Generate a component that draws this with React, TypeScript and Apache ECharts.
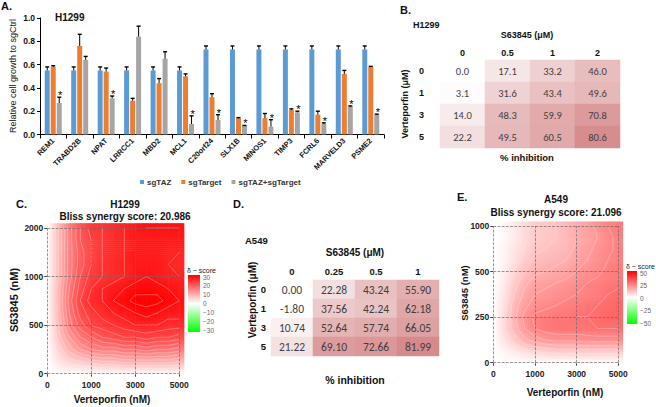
import React, { useEffect, useRef } from 'react';
import * as echarts from 'echarts';

// ---------- Panel A data ----------
const GENES = ['REM1', 'TRABD2B', 'NPAT', 'LRRCC1', 'MBD2', 'MCL1', 'C20orf24', 'SLX1B', 'MINOS1', 'TIMP3', 'FCRL6', 'MARVELD3', 'PSME2'];
const SG_TAZ = [0.55, 0.55, 0.55, 0.55, 0.55, 0.55, 0.73, 0.73, 0.73, 0.73, 0.73, 0.73, 0.73];
const SG_TAZ_ERR = [0.03, 0.03, 0.03, 0.03, 0.03, 0.03, 0.03, 0.03, 0.03, 0.03, 0.03, 0.03, 0.03];
const SG_TARGET = [0.58, 0.76, 0.54, 0.29, 0.44, 0.5, 0.32, 0.14, 0.14, 0.21, 0.17, 0.52, 0.58];
const SG_TARGET_ERR = [0.01, 0.1, 0.03, 0.02, 0.04, 0.02, 0.03, 0.005, 0.04, 0.01, 0.03, 0.03, 0.005];
const SG_COMBO = [0.27, 0.64, 0.31, 0.84, 0.65, 0.09, 0.125, 0.073, 0.067, 0.19, 0.09, 0.24, 0.17];
const SG_COMBO_ERR = [0.05, 0.03, 0.02, 0.09, 0.06, 0.07, 0.045, 0.005, 0.06, 0.01, 0.01, 0.005, 0.005];
const STARRED = [1, 0, 1, 0, 0, 1, 1, 1, 1, 1, 1, 1, 1];
const SERIES_NAMES = ['sgTAZ', 'sgTarget', 'sgTAZ+sgTarget'];
const SERIES_COLORS = ['#5B9BD5', '#ED7D31', '#A5A5A5'];

// ---------- Panel B data (H1299 % inhibition) ----------
const B_COLS = ['0', '0.5', '1', '2'];
const B_ROWS = ['0', '1', '3', '5'];
const B_VALUES = [
  [0.0, 17.1, 33.2, 46.0],
  [3.1, 31.6, 43.4, 49.6],
  [14.0, 48.3, 59.9, 70.8],
  [22.2, 49.5, 60.5, 80.6],
];

// ---------- Panel D data (A549 % inhibition) ----------
const D_COLS = ['0', '0.25', '0.5', '1'];
const D_ROWS = ['0', '1', '3', '5'];
const D_VALUES = [
  [0.0, 22.28, 43.24, 55.9],
  [-1.8, 37.56, 42.24, 62.18],
  [10.74, 52.64, 57.74, 66.05],
  [21.22, 69.1, 72.66, 81.99],
];

// ---------- Panels C / E: delta score surfaces (read at quarter-dose-step positions) ----------
const C_X_TICKS = ['0', '1000', '3000', '5000'];
const C_Y_TICKS = ['0', '500', '1000', '2000'];
const E_X_TICKS = ['0', '1000', '3000', '5000'];
const E_Y_TICKS = ['0', '250', '500', '1000'];
const STEP = 0.25;
// rows: bottom (S63845 = 0) to top; columns: Verteporfin 0 -> 5000
const C_DELTA = [
  [0, 0, 0, 0, 0, 0, 0, 0, 0, 0, 0, 0, 0],
  [0, 3, 5, 6, 7, 8, 8, 9, 9, 9, 9, 9, 8],
  [0, 5, 9, 12, 14, 15, 15, 16, 16, 17, 16, 16, 15],
  [0, 7, 12, 16, 18, 20, 21, 22, 22, 23, 22, 22, 21],
  [0, 8, 15, 19, 22, 23, 24, 25, 26, 26, 26, 25, 25],
  [0, 9, 16, 21, 23, 25, 26, 27, 28, 29, 28, 27, 27],
  [0, 9, 17, 22, 25, 26, 28, 29, 30, 30, 30, 29, 28],
  [0, 9, 16, 21, 24, 26, 27, 28, 29, 29, 29, 28, 27],
  [0, 8, 15, 20, 23, 24, 25, 26, 27, 28, 27, 26, 26],
  [0, 8, 15, 19, 22, 24, 25, 26, 27, 27, 27, 26, 25],
  [0, 8, 15, 19, 22, 24, 25, 26, 27, 27, 27, 26, 26],
  [0, 8, 15, 20, 22, 24, 25, 26, 27, 27, 27, 27, 27],
  [0, 8, 15, 20, 23, 24, 25, 26, 27, 28, 28, 28, 28],
];
const E_DELTA = [
  [0, 0, 0, 0, 0, 0, 0, 0, 0, 0, 0, 0, 0],
  [0, 2, 4, 6, 8, 9, 10, 10, 10, 10, 10, 10, 10],
  [0, 5, 10, 15, 18, 20, 21, 21, 21, 22, 22, 22, 22],
  [0, 7, 14, 20, 24, 26, 27, 27, 27, 27, 28, 28, 28],
  [0, 7, 15, 21, 25, 26, 27, 27, 28, 28, 29, 30, 30],
  [0, 6, 14, 19, 22, 23, 24, 25, 26, 27, 28, 29, 30],
  [0, 5, 12, 17, 20, 21, 22, 23, 24, 25, 26, 28, 29],
  [0, 4, 10, 15, 18, 19, 20, 21, 22, 24, 25, 26, 27],
  [0, 3, 8, 12, 15, 16, 17, 18, 20, 22, 23, 25, 26],
  [0, 2, 6, 10, 13, 14, 15, 16, 18, 20, 22, 24, 25],
  [0, 2, 5, 8, 11, 12, 13, 14, 17, 19, 21, 23, 25],
  [0, 1, 4, 7, 10, 11, 12, 14, 16, 18, 20, 23, 25],
  [0, 1, 4, 7, 10, 11, 12, 14, 16, 18, 21, 24, 26],
];
const C_LIMIT = 30;
const E_LIMIT = 50;
const C_CONTOURS = [2, 4, 6, 8, 10, 12, 14, 16, 18, 20, 22, 24, 26, 28, 29.5];
const E_CONTOURS = [4, 8, 12, 16, 20, 24, 28];
const C_LEGEND_TICKS = [30, 20, 10, 0, -10, -20, -30];
const E_LEGEND_TICKS = [50, 25, 0, -25, -50];

const FONT = "'Liberation Sans', Arial, sans-serif";
const TABLE_FONT = "Carlito, 'Noto Sans', sans-serif";
const EXT = 0.1; // surface drawn slightly past the last dose, as in the reference
const SLICES = 6;

function txt(x: number, y: number, text: string, size: number, opts: any = {}) {
  const align = opts.align || 'left';
  const va = opts.va || 'top';
  return {
    type: 'text',
    x,
    y,
    rotation: opts.rotation || 0,
    silent: true,
    style: {
      text,
      font: `${opts.weight || 'bold'} ${size}px ${opts.family || FONT}`,
      fill: opts.color || '#111',
      align,
      verticalAlign: va,
      textAlign: align,
      textVerticalAlign: va,
    },
  };
}

function colorBar(x: number, y: number, w: number, h: number, ticks: number[], labelX: number, firstY: number, lastY: number) {
  const els: any[] = [
    txt(x - 1, y - 5, 'δ − score', 7, { weight: 'normal', va: 'middle', color: '#222' }),
    {
      type: 'rect',
      silent: true,
      shape: { x, y, width: w, height: h },
      style: {
        fill: new echarts.graphic.LinearGradient(0, 0, 0, 1, [
          { offset: 0, color: '#ff0000' },
          { offset: 0.5, color: '#ffffff' },
          { offset: 1, color: '#00ff00' },
        ]),
      },
    },
  ];
  ticks.forEach((t, i) => {
    const ty = firstY + ((lastY - firstY) * i) / (ticks.length - 1);
    els.push(txt(labelX, ty, String(t).replace('-', '−'), 6.5, { weight: 'normal', va: 'middle', color: '#666' }));
  });
  return els;
}

// white -> red for positive, white -> green for negative (same ramp as the legend)
function deltaRGB(v: number, lim: number): number[] {
  const t = Math.max(-1, Math.min(1, v / lim));
  if (t >= 0) return [255, 255 * (1 - t), 255 * (1 - t)];
  return [255 * (1 + t), 255, 255 * (1 + t)];
}
function mixRGB(a: number[], b: number[], t: number): string {
  const c = a.map((av, i) => Math.round(av + (b[i] - av) * t));
  return `rgb(${c[0]},${c[1]},${c[2]})`;
}

function cellPixels(api: any, c: number, r: number, nCols: number, nRows: number) {
  const xL = api.coord([c * STEP, 0])[0];
  const xR = api.coord([(c + 1) * STEP, 0])[0];
  const xRe = c === nCols - 2 ? api.coord([(c + 1) * STEP + EXT, 0])[0] : xR;
  const yB = api.coord([0, r * STEP])[1];
  const yT = api.coord([0, (r + 1) * STEP])[1];
  const yTe = r === nRows - 2 ? api.coord([0, (r + 1) * STEP + EXT])[1] : yT;
  return { xL, xR, xRe, yB, yT, yTe };
}

function makeSurfaceItem(m: number[][], lim: number) {
  const nRows = m.length;
  const nCols = m[0].length;
  return (_params: any, api: any) => {
    const c = api.value(3);
    const r = api.value(4);
    if (c >= nCols - 1 || r >= nRows - 1) return null;
    const { xL, xR, xRe, yB, yT, yTe } = cellPixels(api, c, r, nCols, nRows);
    const children: any[] = [];
    for (let s = 0; s < SLICES; s++) {
      const t = (s + 0.5) / SLICES;
      const y0 = yB - ((yB - yT) * s) / SLICES;
      const y1 = s === SLICES - 1 ? yTe : yB - ((yB - yT) * (s + 1)) / SLICES;
      const cl = mixRGB(deltaRGB(m[r][c], lim), deltaRGB(m[r + 1][c], lim), t);
      const cr = mixRGB(deltaRGB(m[r][c + 1], lim), deltaRGB(m[r + 1][c + 1], lim), t);
      children.push({
        type: 'rect',
        shape: { x: xL, y: y1, width: xRe - xL + 0.6, height: y0 - y1 + 0.6 },
        style: {
          fill: new echarts.graphic.LinearGradient(xL, 0, xR, 0, [
            { offset: 0, color: cl },
            { offset: 1, color: cr },
          ], true),
        },
      });
    }
    return { type: 'group', children };
  };
}

// contour segments (marching squares) through each cell of the read grid
function makeContourItem(m: number[][], levels: number[]) {
  const nRows = m.length;
  const nCols = m[0].length;
  return (_params: any, api: any) => {
    const c = api.value(3);
    const r = api.value(4);
    if (c >= nCols - 1 || r >= nRows - 1) return null;
    const { xL, xR, yB, yT } = cellPixels(api, c, r, nCols, nRows);
    const bl = m[r][c];
    const br = m[r][c + 1];
    const tl = m[r + 1][c];
    const tr = m[r + 1][c + 1];
    const children: any[] = [];
    levels.forEach((L) => {
      const pts: number[][] = [];
      const cross = (a: number, b: number) => (a < L) !== (b < L);
      if (cross(bl, br)) { const f = (L - bl) / (br - bl); pts.push([xL + f * (xR - xL), yB]); }
      if (cross(br, tr)) { const f = (L - br) / (tr - br); pts.push([xR, yB + f * (yT - yB)]); }
      if (cross(tl, tr)) { const f = (L - tl) / (tr - tl); pts.push([xL + f * (xR - xL), yT]); }
      if (cross(bl, tl)) { const f = (L - bl) / (tl - bl); pts.push([xL, yB + f * (yT - yB)]); }
      for (let i = 0; i + 1 < pts.length; i += 2) {
        children.push({
          type: 'line',
          shape: { x1: pts[i][0], y1: pts[i][1], x2: pts[i + 1][0], y2: pts[i + 1][1] },
          style: { stroke: 'rgba(255,235,235,0.55)', lineWidth: 0.6 },
        });
      }
    });
    return { type: 'group', children };
  };
}

function errItem(_params: any, api: any) {
  const cat = api.value(0);
  const v = api.value(1);
  const e = api.value(2);
  const s = api.value(3);
  const star = api.value(4);
  const b = api.coord([cat, v]);
  const t = api.coord([cat, v + e]);
  const x = b[0] + (s - 1) * 6;
  const children: any[] = [
    { type: 'line', shape: { x1: x, y1: b[1], x2: x, y2: t[1] }, style: { stroke: '#000', lineWidth: 1 } },
    { type: 'line', shape: { x1: x - 2, y1: t[1], x2: x + 2, y2: t[1] }, style: { stroke: '#000', lineWidth: 1.4 } },
  ];
  if (star) {
    children.push({
      type: 'text',
      x: x + 1,
      y: t[1] - 2,
      style: { text: '*', font: `11px ${FONT}`, fill: '#000', align: 'center', verticalAlign: 'middle' },
    });
  }
  return { type: 'group', children };
}

function surfaceAxes(grid: number, xt: string[], yt: string[]) {
  const label = { fontSize: 8.5, fontWeight: 'bold', color: '#222', fontFamily: FONT };
  return {
    x: {
      type: 'value', gridIndex: grid, min: 0, max: xt.length - 1, interval: 1,
      axisLine: { show: false }, splitLine: { show: false },
      axisTick: { show: true, length: 3, lineStyle: { color: '#444' } },
      axisLabel: { ...label, margin: 7, formatter: (v: number) => xt[v] },
    },
    y: {
      type: 'value', gridIndex: grid, min: 0, max: yt.length - 1, interval: 1,
      axisLine: { show: false }, splitLine: { show: false },
      axisTick: { show: true, length: 3, lineStyle: { color: '#444' } },
      axisLabel: { ...label, margin: 4, formatter: (v: number) => yt[v] },
    },
  };
}

function gridLines(xt: string[], yt: string[]) {
  return {
    silent: true,
    symbol: ['none', 'none'],
    label: { show: false },
    lineStyle: { type: 'dashed', color: '#6a6a6a', width: 0.7 },
    data: [...xt.map((_, i) => ({ xAxis: i })), ...yt.map((_, i) => ({ yAxis: i }))],
  };
}

function tableAxes(grid: number, cols: string[], rows: string[], fs: number, xMargin: number, yMargin: number) {
  const label = { fontSize: fs, fontWeight: 'bold', color: '#111', fontFamily: FONT };
  return {
    x: {
      type: 'category', gridIndex: grid, data: cols, position: 'top',
      axisLine: { show: false }, axisTick: { show: false }, splitLine: { show: false },
      axisLabel: { ...label, margin: xMargin },
    },
    y: {
      type: 'category', gridIndex: grid, data: rows, inverse: true,
      axisLine: { show: false }, axisTick: { show: false }, splitLine: { show: false },
      axisLabel: { ...label, margin: yMargin },
    },
  };
}

function buildOption() {
  const values = [SG_TAZ, SG_TARGET, SG_COMBO];
  const errs = [SG_TAZ_ERR, SG_TARGET_ERR, SG_COMBO_ERR];
  const errData: any[] = [];
  values.forEach((vals, s) => {
    vals.forEach((v, i) => {
      errData.push([i, v, errs[s][i], s, s === 2 && STARRED[i] ? 1 : 0]);
    });
  });

  const bAx = tableAxes(1, B_COLS, B_ROWS, 9, 3, 16);
  const dAx = tableAxes(3, D_COLS, D_ROWS, 9.5, 4, 5);
  const cAx = surfaceAxes(2, C_X_TICKS, C_Y_TICKS);
  const eAx = surfaceAxes(4, E_X_TICKS, E_Y_TICKS);

  const tableData = (m: number[][]) => m.flatMap((row, r) => row.map((v, c) => [c, r, v]));
  const surfData = (m: number[][]) => m.flatMap((row, r) => row.map((v, c) => [c * STEP, r * STEP, v, c, r]));

  return {
    animation: false,
    backgroundColor: '#ffffff',
    textStyle: { fontFamily: FONT },
    legend: {
      data: SERIES_NAMES,
      left: 135,
      top: 173,
      icon: 'rect',
      itemWidth: 4,
      itemHeight: 4,
      itemGap: 10,
      textStyle: { fontSize: 8, fontWeight: 'bold', color: '#333', padding: [0, 0, 0, -2] },
    },
    grid: [
      { left: 40, top: 18, width: 344, height: 116.5 },
      { left: 440, top: 60, width: 180, height: 88 },
      { left: 47.3, top: 228, width: 132, height: 145.7 },
      { left: 271, top: 280, width: 168, height: 76 },
      { left: 493.3, top: 226, width: 125, height: 136.7 },
    ],
    xAxis: [
      {
        type: 'category', gridIndex: 0, data: GENES,
        axisLine: { lineStyle: { color: '#000', width: 1 } },
        axisTick: { show: true, length: 4, interval: 0, lineStyle: { color: '#000' } },
        axisLabel: { interval: 0, rotate: 45, fontSize: 7.5, fontWeight: 'bold', color: '#111', margin: 5 },
      },
      bAx.x, cAx.x, dAx.x, eAx.x,
    ],
    yAxis: [
      {
        type: 'value', gridIndex: 0, min: 0, max: 1, interval: 0.2,
        axisLine: { show: true, lineStyle: { color: '#000', width: 1 } },
        axisTick: { show: true, length: 3, lineStyle: { color: '#000' } },
        splitLine: { show: false },
        axisLabel: { fontSize: 8.5, fontWeight: 'bold', color: '#111', margin: 5, formatter: (v: number) => v.toFixed(1) },
      },
      bAx.y, cAx.y, dAx.y, eAx.y,
    ],
    visualMap: [
      {
        type: 'continuous', show: false, seriesIndex: [4, 6], dimension: 2,
        min: 0, max: 82, inRange: { color: ['#ffffff', '#d68a8c'] },
      },
    ],
    series: [
      ...values.map((vals, s) => ({
        type: 'bar', name: SERIES_NAMES[s], xAxisIndex: 0, yAxisIndex: 0, data: vals,
        barWidth: 5, barGap: '20%', itemStyle: { color: SERIES_COLORS[s] },
      })),
      {
        type: 'custom', xAxisIndex: 0, yAxisIndex: 0, data: errData, renderItem: errItem,
        encode: { x: 0, y: 1 }, z: 5, silent: true,
      },
      {
        type: 'heatmap', xAxisIndex: 1, yAxisIndex: 1, data: tableData(B_VALUES),
        label: {
          show: true, fontSize: 10.5, color: '#404040', fontFamily: TABLE_FONT,
          formatter: (p: any) => p.value[2].toFixed(1),
        },
      },
      {
        type: 'custom', xAxisIndex: 2, yAxisIndex: 2, data: surfData(C_DELTA),
        renderItem: makeSurfaceItem(C_DELTA, C_LIMIT),
        encode: { x: 0, y: 1 }, silent: true,
      },
      {
        type: 'heatmap', xAxisIndex: 3, yAxisIndex: 3, data: tableData(D_VALUES),
        label: {
          show: true, fontSize: 11.5, color: '#404040', fontFamily: TABLE_FONT,
          formatter: (p: any) => p.value[2].toFixed(2),
        },
      },
      {
        type: 'custom', xAxisIndex: 4, yAxisIndex: 4, data: surfData(E_DELTA),
        renderItem: makeSurfaceItem(E_DELTA, E_LIMIT),
        encode: { x: 0, y: 1 }, silent: true,
      },
      {
        type: 'custom', xAxisIndex: 2, yAxisIndex: 2, data: surfData(C_DELTA),
        renderItem: makeContourItem(C_DELTA, C_CONTOURS), z: 3,
        encode: { x: 0, y: 1 }, silent: true, markLine: gridLines(C_X_TICKS, C_Y_TICKS),
      },
      {
        type: 'custom', xAxisIndex: 4, yAxisIndex: 4, data: surfData(E_DELTA),
        renderItem: makeContourItem(E_DELTA, E_CONTOURS), z: 3,
        encode: { x: 0, y: 1 }, silent: true, markLine: gridLines(E_X_TICKS, E_Y_TICKS),
      },
    ],
    graphic: [
      // Panel A
      txt(1, 0, 'A.', 11),
      txt(55, 12, 'H1299', 10),
      txt(13, 76, 'Relative cell growth to sgCtrl', 9, { weight: 'normal', rotation: Math.PI / 2, align: 'center', va: 'middle' }),
      // Panel B
      txt(400, 4, 'B.', 11),
      txt(413, 20, 'H1299', 9),
      txt(527, 35, 'S63845 (μM)', 9, { align: 'center', va: 'middle' }),
      txt(405, 104, 'Verteporfin (μM)', 9, { rotation: Math.PI / 2, align: 'center', va: 'middle' }),
      txt(527, 157, '% inhibition', 9.5, { align: 'center', va: 'middle' }),
      // Panel C
      txt(16, 198, 'C.', 11),
      txt(125, 204, 'H1299', 10, { align: 'center', va: 'middle' }),
      txt(125, 216, 'Bliss synergy score: 20.986', 10, { align: 'center', va: 'middle' }),
      txt(14, 300, 'S63845 (nM)', 11, { rotation: Math.PI / 2, align: 'center', va: 'middle' }),
      txt(112, 399, 'Verteporfin (nM)', 10, { align: 'center', va: 'middle' }),
      ...colorBar(188, 275, 12, 57, C_LEGEND_TICKS, 203, 277, 330),
      // Panel D
      txt(233, 198, 'D.', 11),
      txt(245, 235, 'A549', 9.5),
      txt(355, 252, 'S63845 (μM)', 10, { align: 'center', va: 'middle' }),
      txt(252, 300, 'Verteporfin (μM)', 10, { rotation: Math.PI / 2, align: 'center', va: 'middle' }),
      txt(355, 380, '% inhibition', 10.5, { align: 'center', va: 'middle' }),
      // Panel E
      txt(457, 191, 'E.', 11),
      txt(556, 199, 'A549', 10, { align: 'center', va: 'middle' }),
      txt(556, 212, 'Bliss synergy score: 21.096', 10, { align: 'center', va: 'middle' }),
      txt(464, 293, 'S63845 (nM)', 9.5, { rotation: Math.PI / 2, align: 'center', va: 'middle' }),
      txt(565, 392, 'Verteporfin (nM)', 10, { align: 'center', va: 'middle' }),
      ...colorBar(627, 271, 10, 53, E_LEGEND_TICKS, 640, 273, 323),
    ],
  };
}

export default function App() {
  const ref = useRef<HTMLDivElement>(null);
  useEffect(() => {
    const chart = echarts.init(ref.current as HTMLDivElement, null, { renderer: 'svg' });
    chart.setOption(buildOption() as any);
    return () => chart.dispose();
  }, []);
  return (
    <div
      ref={ref}
      style={{ position: 'fixed', left: 0, top: 0, width: 656, height: 407, background: '#ffffff' }}
    />
  );
}
